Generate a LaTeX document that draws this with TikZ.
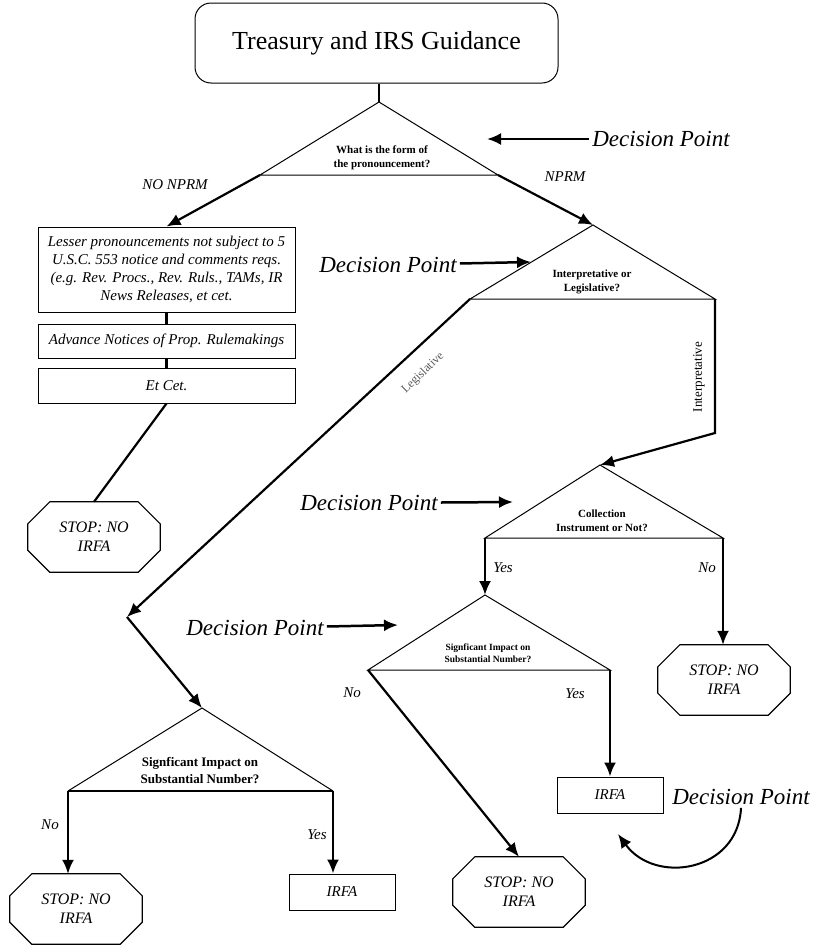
\documentclass[tikz,border=0pt]{standalone}
\usepackage{fontspec}
\setmainfont{Liberation Serif}
\usepackage{tikz}
\usetikzlibrary{arrows.meta}
\tikzstyle{title}=[rectangle,rounded corners=16pt,draw=black,line width=1pt,minimum width=363pt,minimum height=80pt,font=\fontsize{26}{30}\selectfont]
\tikzstyle{box}=[rectangle,draw=black,line width=1pt,minimum width=257pt,align=center,inner sep=2pt,font=\fontsize{15}{18}\selectfont\itshape]
\tikzstyle{irfa}=[rectangle,draw=black,line width=1pt,minimum width=106pt,minimum height=36pt,font=\fontsize{15}{18}\selectfont\itshape]
\tikzstyle{stopnode}=[rectangle,minimum width=132pt,minimum height=70pt,inner sep=0pt,align=center,font=\fontsize{16}{19}\selectfont\itshape]
\tikzstyle{question}=[align=center,inner sep=0pt,font=\fontsize{11}{14}\selectfont\bfseries]
\tikzstyle{lbl}=[inner sep=1pt,font=\fontsize{15}{18}\selectfont\itshape]
\tikzstyle{dpoint}=[inner sep=3pt,font=\fontsize{23}{26}\selectfont\itshape]
\tikzstyle{side}=[line width=1pt]
\tikzstyle{conn}=[line width=2.2pt]
\tikzstyle{dparrow}=[line width=2.5pt,->]
% octagon round a stop node
\newcommand{\stopoct}[1]{\draw[line width=1.2pt] ([xshift=22pt]#1.north west) -- ([xshift=-22pt]#1.north east) -- ([yshift=-22pt]#1.north east) -- ([yshift=22pt]#1.south east) -- ([xshift=-22pt]#1.south east) -- ([xshift=22pt]#1.south west) -- ([yshift=22pt]#1.south west) -- ([yshift=-22pt]#1.north west) -- cycle;}

\begin{document}
\begin{tikzpicture}[x=1pt,y=-1pt,>={Latex[length=14pt,width=12pt]}]
  \useasboundingbox (0,0) rectangle (815,945);

  % form of the pronouncement
  \node (guide) [title] at (376.5,43) {Treasury and IRS Guidance};
  \coordinate (f) at (379,102);
  \coordinate (fl) at (260,175);
  \coordinate (fr) at (498,175);
  \draw[side] (f) -- (fl) -- (fr) -- cycle;
  \draw[line width=1.5pt] (f |- guide.south) -- (f);
  \node (fq) [question] at (382,158) {What is the form of\\the pronouncement?};
  \node (dp1) [dpoint] at (661,139) {Decision Point};
  \coordinate (dp1t) at (487,139);
  \draw[dparrow] (dp1) -- (dp1t);

  % lesser pronouncements
  \node (lesser) [box,minimum height=85pt] at (166.5,269.5) {Lesser pronouncements not subject to 5\\U.S.C. 553 notice and comments reqs.\\(e.g. Rev. Procs., Rev. Ruls., TAMs, IR\\News Releases, et cet.};
  \node (anpr) [box,minimum height=34pt] at (166.5,341) {Advance Notices of Prop. Rulemakings};
  \node (etcet) [box,minimum height=35pt] at (166.5,385.5) {Et Cet.};
  \node (stop1) [stopnode] at (94,537) {STOP: NO\\IRFA};
  \stopoct{stop1}
  \draw[conn,->] (fl) -- (lesser.north);
  \node (nonprm) [lbl] at (175,185) {NO NPRM};
  \draw[conn] (lesser) -- (anpr);
  \draw[conn] (anpr) -- (etcet);
  \draw[conn] (etcet.south) -- (stop1.north);

  % interpretative or legislative
  \coordinate (il) at (593,225);
  \coordinate (ill) at (470,299);
  \coordinate (ilr) at (715,299);
  \draw[side] (il) -- (ill) -- (ilr) -- cycle;
  \draw[conn,->] (fr) -- (il);
  \node (nprm) [lbl] at (565,177) {NPRM};
  \node (ilq) [question] at (592,282) {Interpretative or\\Legislative?};
  \node (dp2) [dpoint] at (388,265) {Decision Point};
  \coordinate (dp2t) at (531,262);
  \draw[dparrow] (dp2) -- (dp2t);

  % collection instrument
  \coordinate (ci) at (600,465);
  \coordinate (cil) at (485,538);
  \coordinate (cir) at (723,538);
  \draw[side] (ci) -- (cil) -- (cir) -- cycle;
  \coordinate (ibend) at (715,433);
  \draw[conn,->] (ilr) -- (ibend) -- (ci);
  \node (interp) [rotate=90,font=\fontsize{13}{15}\selectfont] at (699,377) {Interpretative};
  \node (ciq) [question] at (602,521) {Collection\\Instrument or Not?};
  \node (dp3) [dpoint] at (369,503) {Decision Point};
  \coordinate (dp3t) at (513,502);
  \draw[dparrow] (dp3) -- (dp3t);
  \node (stop2) [stopnode] at (724,680) {STOP: NO\\IRFA};
  \stopoct{stop2}
  \draw[conn,->] (cir) -- (cir |- stop2.north);
  \node (ciyes) [lbl] at (503,568) {Yes};
  \node (cino) [lbl] at (707,568) {No};

  % significant impact (after collection instrument)
  \coordinate (si) at (485,595);
  \coordinate (sil) at (368,670);
  \coordinate (sir) at (610,670);
  \draw[side] (si) -- (sil) -- (sir) -- cycle;
  \draw[conn,->] (cil) -- (si);
  \node (siq) [question,font=\fontsize{9.5}{12}\selectfont\bfseries] at (488,653) {Signficant Impact on\\Substantial Number?};
  \node (dp4) [dpoint] at (255,628) {Decision Point};
  \coordinate (dp4t) at (398,625);
  \draw[dparrow] (dp4) -- (dp4t);
  \node (stop3) [stopnode] at (519,892) {STOP: NO\\IRFA};
  \stopoct{stop3}
  \node (irfa1) [irfa] at (610,795) {IRFA};
  \draw[conn,->] (sil) -- (stop3.north);
  \draw[conn,->] (sir) -- (sir |- irfa1.north);
  \node (sino) [lbl] at (352,693) {No};
  \node (siyes) [lbl] at (575,694) {Yes};
  \node (dp5) [dpoint] at (741,797) {Decision Point};
  \coordinate (dp5t) at (618,834);
  \draw[line width=2pt,->] (dp5.south) .. controls (738,872) and (655,885) .. (dp5t);

  % legislative branch
  \coordinate (legbend) at (127,617);
  \draw[conn,->] (ill) -- (legbend);
  \node (leglbl) [rotate=44,text=black!65,font=\fontsize{12}{14}\selectfont] at (423,373) {Legislative};
  \coordinate (lg) at (202,708);
  \coordinate (lgl) at (68,791);
  \coordinate (lgr) at (333,791);
  \draw[conn,->] (legbend) -- (lg);
  \draw[side] (lg) -- (lgl);
  \draw[side] (lg) -- (lgr);
  \draw[line width=2pt] (lgl) -- (lgr);
  \node (lgq) [question,font=\fontsize{13}{17}\selectfont\bfseries] at (200,771) {Signficant Impact on\\Substantial Number?};
  \node (stop4) [stopnode] at (76,909) {STOP: NO\\IRFA};
  \stopoct{stop4}
  \node (irfa2) [irfa] at (342,892) {IRFA};
  \draw[conn,->] (lgl) -- (lgl |- stop4.north);
  \draw[conn,->] (lgr) -- (lgr |- irfa2.north);
  \node (lgno) [lbl] at (50,825) {No};
  \node (lgyes) [lbl] at (317,835) {Yes};
\end{tikzpicture}
\end{document}
